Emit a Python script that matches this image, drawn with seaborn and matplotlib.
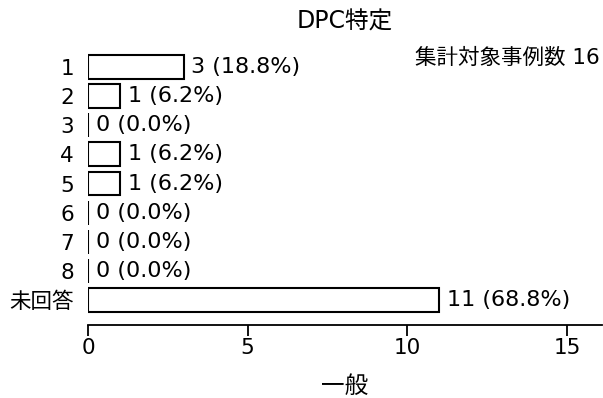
import matplotlib
matplotlib.use("Agg")
import matplotlib.pyplot as plt
import seaborn as sns
import pandas as pd

categories = ["1", "2", "3", "4", "5", "6", "7", "8", "未回答"]
counts = [3, 1, 0, 1, 1, 0, 0, 0, 11]
total = 16
title = "DPC特定"
xlabel = "一般"
note = "集計対象事例数 16"

sns.set_theme(style="white")
plt.rcParams["font.family"] = ["DejaVu Sans", "Noto Sans CJK JP"]
plt.rcParams["text.color"] = "black"
plt.rcParams["axes.labelcolor"] = "black"
plt.rcParams["xtick.color"] = "black"
plt.rcParams["ytick.color"] = "black"

df = pd.DataFrame({"cat": categories, "n": counts})

fig = plt.figure(figsize=(6.03, 3.98), dpi=100)
ax = fig.add_axes([88 / 603, 73 / 398, 514 / 603, 285 / 398])

sns.barplot(data=df, x="n", y="cat", order=categories, orient="h",
            color="white", edgecolor="black", linewidth=1.5, width=0.82,
            saturation=1, ax=ax)

# value labels: count (percent)
for i, v in enumerate(counts):
    ax.annotate(f"{v} ({v / total * 100:.1f}%)", xy=(v, i), xytext=(5.5, 0),
                textcoords="offset points", va="center", ha="left", fontsize=16)

ax.set_xlim(0, 16.1)
ax.set_ylim(8.86, -0.93)
ax.set_xticks([0, 5, 10, 15])
ax.set_ylabel("")
ax.set_xlabel(xlabel, fontsize=17, labelpad=12)
ax.set_title(title, fontsize=17, pad=8)

for s in ["top", "right", "left"]:
    ax.spines[s].set_visible(False)
ax.spines["bottom"].set_color("black")
ax.spines["bottom"].set_linewidth(1.3)
ax.tick_params(axis="x", direction="out", length=8, width=1.3, color="black",
               labelsize=15.5, bottom=True, pad=1)
ax.tick_params(axis="y", length=0, labelsize=15.5, pad=10)

fig.text(600 / 603, 1 - 58 / 398, note, ha="right", va="center", fontsize=15.5)

fig.savefig("out.png", dpi=100)
